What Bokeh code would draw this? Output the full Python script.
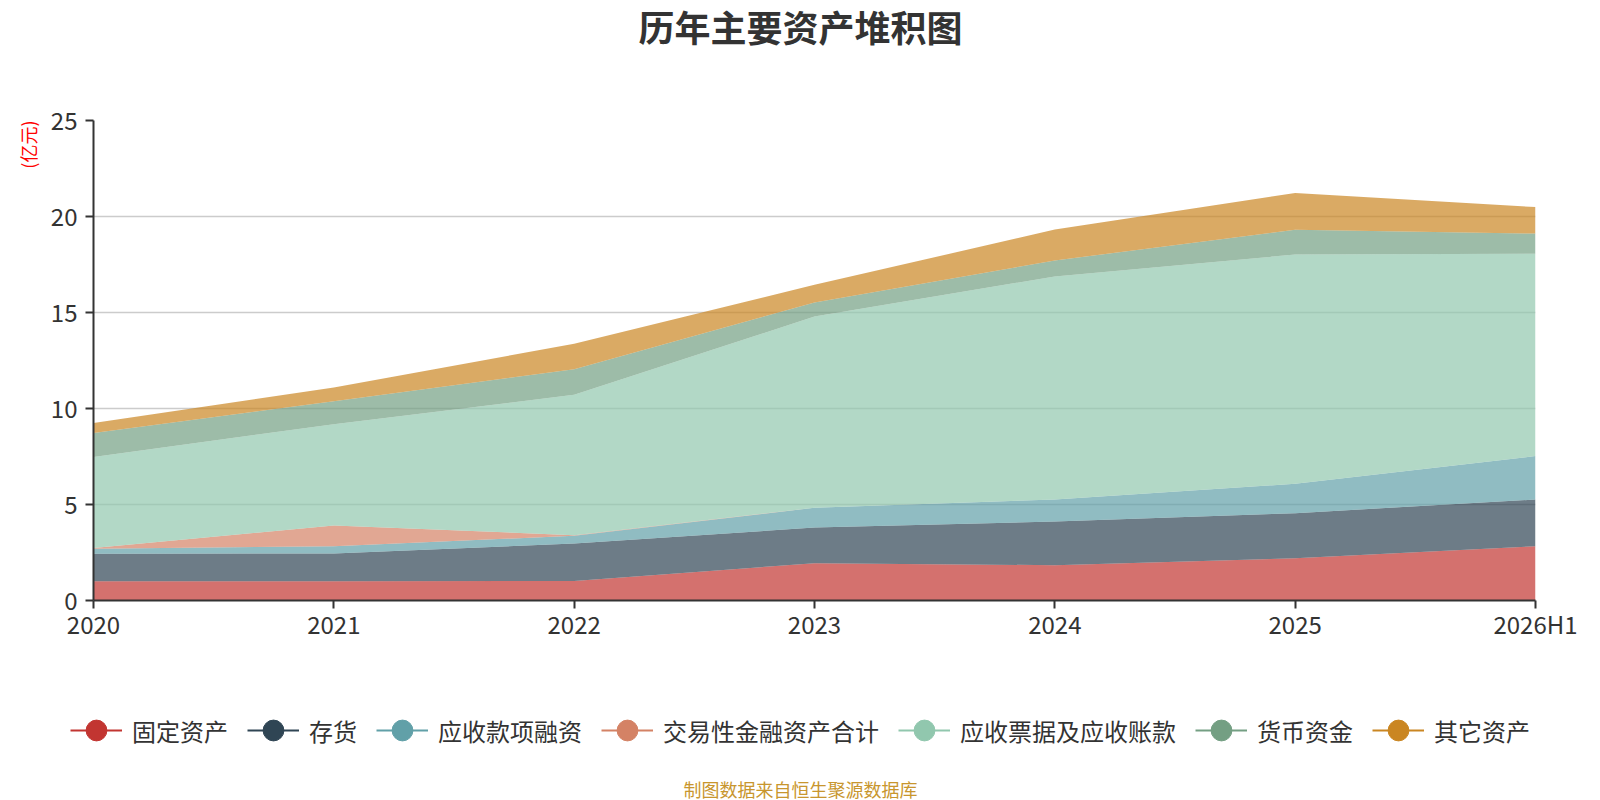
from bokeh.plotting import figure
from bokeh.layouts import column, row
from bokeh.models import ColumnDataSource, Legend, LegendItem, Title, Label, FixedTicker, Range1d
from bokeh.embed import file_html
from bokeh.resources import INLINE

categories = ["2020", "2021", "2022", "2023", "2024", "2025", "2026H1"]
names = ["固定资产", "存货", "应收款项融资", "交易性金融资产合计", "应收票据及应收账款", "货币资金", "其它资产"]
gudingzichan = [1.00, 1.00, 1.02, 1.94, 1.84, 2.20, 2.83]
cunhuo = [1.43, 1.45, 1.95, 1.86, 2.27, 2.35, 2.43]
yingshoukuanxiang = [0.26, 0.38, 0.40, 1.03, 1.15, 1.53, 2.26]
jiaoyixing = [0.04, 1.08, 0.03, 0.0, 0.0, 0.0, 0.0]
yingshoupiaoju = [4.75, 5.27, 7.31, 9.96, 11.62, 11.94, 10.54]
huobizijin = [1.25, 1.20, 1.34, 0.73, 0.83, 1.29, 1.05]
qita = [0.52, 0.71, 1.32, 0.92, 1.61, 1.92, 1.38]
y_ticks = [0, 5, 10, 15, 20, 25]

colors = ["#c23531", "#2f4554", "#61a0a8", "#d48265", "#91c7ae", "#749f83", "#ca8622"]
series = [gudingzichan, cunhuo, yingshoukuanxiang, jiaoyixing, yingshoupiaoju, huobizijin, qita]
keys = ["s%d" % i for i in range(len(series))]

data = {"x": list(range(len(categories)))}
for k, s in zip(keys, series):
    data[k] = s
source = ColumnDataSource(data)

FONT = "Noto Sans CJK SC"
W = 1600


def blank(h):
    f = figure(width=W, height=h, output_backend="svg", toolbar_location=None,
               x_axis_type=None, y_axis_type=None, title=None,
               x_range=Range1d(0, W), y_range=Range1d(0, h),
               min_border_left=0, min_border_right=0, min_border_top=0, min_border_bottom=0)
    f.outline_line_color = None
    return f


# ---- title strip ----
top = blank(100)
top.add_layout(Label(x=W / 2, y=75, text="历年主要资产堆积图", text_font=FONT,
                     text_font_size="36px", text_font_style="bold", text_color="#333333",
                     text_align="center", text_baseline="middle"))

# ---- main chart ----
p = figure(width=W, height=560, output_backend="svg", toolbar_location=None, title=None,
           min_border_left=93, min_border_right=65, min_border_top=20, min_border_bottom=60,
           x_range=Range1d(0, len(categories) - 1), y_range=Range1d(0, 25))
p.outline_line_color = None
p.varea_stack(stackers=keys, x="x", source=source, color=colors, fill_alpha=0.7)

p.xaxis.ticker = FixedTicker(ticks=list(range(len(categories))))
p.xaxis.major_label_overrides = {i: c for i, c in enumerate(categories)}
p.yaxis.ticker = FixedTicker(ticks=y_ticks)
for ax in (p.xaxis[0], p.yaxis[0]):
    ax.axis_line_color = "#333333"
    ax.axis_line_width = 2
    ax.major_tick_line_color = "#333333"
    ax.major_tick_line_width = 2
    ax.major_tick_out = 8
    ax.major_tick_in = 0
    ax.minor_tick_line_color = None
    ax.major_label_text_font = FONT
    ax.major_label_text_font_size = "24px"
    ax.major_label_text_color = "#333333"
p.xaxis.major_label_standoff = -3
p.yaxis.major_label_standoff = 8
p.xgrid.grid_line_color = None
p.ygrid.grid_line_color = "#cccccc"
p.ygrid.grid_line_width = 1.5

unit = Title(text="(亿元)", align="right", text_font=FONT, text_font_size="18px",
             text_font_style="normal", text_color="#ff0000", standoff=13)
p.add_layout(unit, "left")

# ---- legend + source strip ----
bot = blank(140)
items = []
for name, c in zip(names, colors):
    dummy = ColumnDataSource({"x": [float("nan")], "y": [float("nan")]})
    lr = bot.line("x", "y", source=dummy, line_color=c, line_width=2)
    sr = bot.scatter("x", "y", source=dummy, marker="circle", size=24, fill_color=c, line_color=c)
    items.append(LegendItem(label=name, renderers=[lr, sr]))
legend = Legend(items=items, orientation="horizontal", location="center",
                label_text_font=FONT, label_text_font_size="24px", label_text_color="#333333",
                glyph_width=52, glyph_height=52, label_standoff=10, spacing=19,
                padding=0, margin=0, border_line_color=None, background_fill_alpha=0)
bot.add_layout(legend, "center")
bot.add_layout(Label(x=W / 2, y=12, text="制图数据来自恒生聚源数据库", text_font=FONT,
                     text_font_size="18px", text_color="#c8962e",
                     text_align="center", text_baseline="middle"))

# wrapping the strips in rows keeps their frames full-width (no frame alignment with the chart)
layout = column(row(top), p, row(bot), spacing=0)
open("out.html", "w").write(file_html(layout, INLINE))
